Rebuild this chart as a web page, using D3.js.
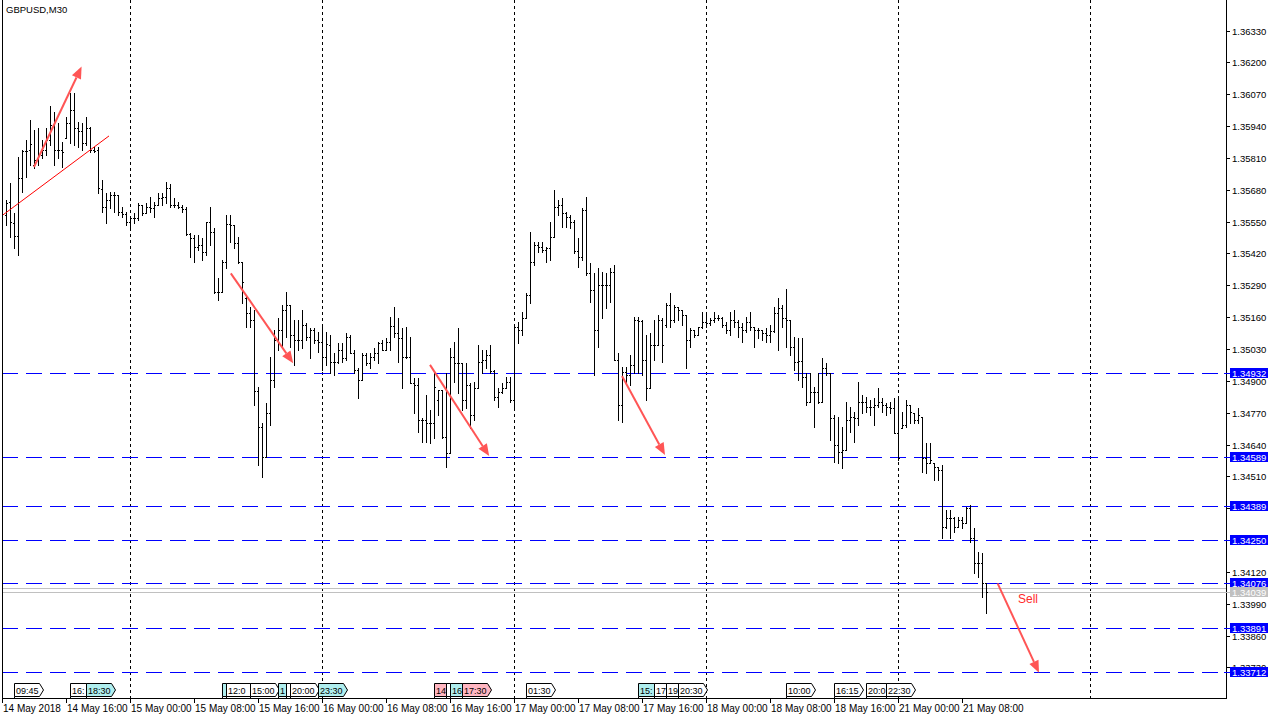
<!DOCTYPE html>
<html><head><meta charset="utf-8">
<script src="https://cdn.jsdelivr.net/npm/d3@7"></script>
<style>
html,body{margin:0;padding:0;background:#fff;}
svg{display:block;}
text{font-family:"Liberation Sans",Arial,sans-serif;}
</style></head><body>
<svg id="c" width="1280" height="720"></svg>
<script>
const title = "GBPUSD,M30";
const firstBar = 1; // bar index of first value (30-minute bars from 14 May 08:00)
const opens = [
1.35577,1.35630,1.35545,1.35491,1.35728,1.35838,1.35843,1.35781,1.35802,1.35822,
1.35843,1.35883,1.35945,1.35843,1.35843,1.35891,1.35953,1.36006,1.35932,1.35920,
1.35871,1.35932,1.35843,1.35843,1.35683,1.35610,1.35638,1.35659,1.35659,1.35589,
1.35581,1.35549,1.35565,1.35565,1.35618,1.35585,1.35610,1.35606,1.35618,1.35647,
1.35651,1.35687,1.35618,1.35618,1.35610,1.35602,1.35500,1.35483,1.35447,1.35455,
1.35426,1.35549,1.35508,1.35263,1.35263,1.35385,1.35540,1.35536,1.35463,1.35385,
1.35238,1.35177,1.35148,1.34859,1.34712,1.34589,1.34769,1.34904,1.35067,1.35108,
1.35189,1.35210,1.35087,1.35067,1.35067,1.35128,1.35079,1.35108,1.35067,1.35059,
1.34997,1.35046,1.34977,1.34977,1.35026,1.34993,1.35079,1.35014,1.34944,1.34904,
1.35006,1.34973,1.34997,1.35014,1.35055,1.35026,1.35059,1.35124,1.35095,1.35075,
1.34997,1.34997,1.34891,1.34883,1.34740,1.34740,1.34728,1.34728,1.34822,1.34863,
1.34671,1.34605,1.34997,1.34973,1.34973,1.34822,1.34883,1.34761,1.34871,1.34977,
1.34985,1.35006,1.34940,1.34834,1.34855,1.34871,1.34895,1.34822,1.35120,1.35108,
1.35157,1.35250,1.35385,1.35455,1.35447,1.35434,1.35442,1.35487,1.35610,1.35618,
1.35585,1.35569,1.35549,1.35430,1.35406,1.35598,1.35340,1.35271,1.35108,1.35291,
1.35291,1.35291,1.35344,1.34985,1.34801,1.34936,1.34924,1.34965,1.35148,1.35144,
1.34985,1.34871,1.35046,1.35046,1.35148,1.35128,1.35210,1.35148,1.35202,1.35189,
1.35169,1.35067,1.35108,1.35087,1.35120,1.35140,1.35136,1.35148,1.35157,1.35157,
1.35128,1.35108,1.35148,1.35140,1.35120,1.35108,1.35140,1.35120,1.35108,1.35108,
1.35095,1.35087,1.35104,1.35177,1.35197,1.35157,1.35148,1.35038,1.34977,1.34981,
1.34916,1.34814,1.34855,1.34855,1.34814,1.34952,1.34932,1.34748,1.34638,1.34610,
1.34618,1.34740,1.34752,1.34748,1.34814,1.34814,1.34793,1.34793,1.34801,1.34814,
1.34801,1.34793,1.34789,1.34687,1.34708,1.34720,1.34801,1.34769,1.34740,1.34752,
1.34585,1.34565,1.34565,1.34548,1.34536,1.34303,1.34340,1.34340,1.34303,1.34332,
1.34320,1.34381,1.34258,1.34156,1.34156,1.34075];
const highs = [
1.35638,1.35708,1.35585,1.35814,1.35843,1.35883,1.35965,1.35924,1.35932,1.35883,
1.35932,1.36022,1.35998,1.35953,1.35875,1.35977,1.36075,1.36075,1.35957,1.35953,
1.35977,1.35936,1.35855,1.35855,1.35720,1.35667,1.35671,1.35671,1.35659,1.35610,
1.35589,1.35569,1.35585,1.35626,1.35618,1.35626,1.35651,1.35630,1.35667,1.35667,
1.35712,1.35704,1.35647,1.35630,1.35618,1.35610,1.35504,1.35495,1.35495,1.35483,
1.35549,1.35610,1.35524,1.35320,1.35393,1.35577,1.35577,1.35536,1.35487,1.35385,
1.35250,1.35202,1.35189,1.34875,1.34728,1.34810,1.34997,1.35108,1.35157,1.35210,
1.35263,1.35210,1.35148,1.35148,1.35189,1.35136,1.35116,1.35116,1.35099,1.35120,
1.35099,1.35087,1.35014,1.35055,1.35055,1.35095,1.35087,1.35026,1.34952,1.35014,
1.35014,1.35014,1.35034,1.35059,1.35067,1.35075,1.35161,1.35202,1.35157,1.35116,
1.35120,1.35079,1.34912,1.34912,1.34748,1.34842,1.34781,1.34932,1.34863,1.34863,
1.34932,1.35034,1.35059,1.35116,1.34973,1.34973,1.34891,1.34895,1.35046,1.35026,
1.35026,1.35046,1.34944,1.34871,1.34891,1.34916,1.34916,1.35120,1.35140,1.35181,
1.35259,1.35508,1.35467,1.35467,1.35467,1.35447,1.35549,1.35679,1.35638,1.35647,
1.35589,1.35577,1.35557,1.35483,1.35606,1.35651,1.35381,1.35340,1.35361,1.35344,
1.35340,1.35361,1.35373,1.35014,1.34957,1.34957,1.35006,1.35161,1.35161,1.35148,
1.35087,1.35095,1.35148,1.35169,1.35157,1.35218,1.35259,1.35210,1.35202,1.35189,
1.35169,1.35116,1.35108,1.35120,1.35181,1.35169,1.35157,1.35181,1.35169,1.35161,
1.35140,1.35181,1.35189,1.35148,1.35136,1.35161,1.35181,1.35120,1.35116,1.35108,
1.35116,1.35128,1.35202,1.35238,1.35210,1.35275,1.35148,1.35079,1.35075,1.35075,
1.34932,1.34932,1.34875,1.34932,1.34993,1.34973,1.34932,1.34761,1.34752,1.34712,
1.34814,1.34793,1.34773,1.34895,1.34842,1.34834,1.34822,1.34830,1.34871,1.34830,
1.34810,1.34814,1.34830,1.34830,1.34773,1.34822,1.34801,1.34769,1.34789,1.34752,
1.34646,1.34646,1.34565,1.34548,1.34556,1.34373,1.34373,1.34344,1.34344,1.34344,
1.34385,1.34393,1.34299,1.34201,1.34197,1.34075];
const lows = [
1.35536,1.35487,1.35442,1.35414,1.35671,1.35732,1.35781,1.35769,1.35781,1.35810,
1.35822,1.35863,1.35781,1.35810,1.35773,1.35891,1.35871,1.35863,1.35855,1.35843,
1.35863,1.35834,1.35834,1.35667,1.35589,1.35545,1.35606,1.35589,1.35577,1.35569,
1.35536,1.35528,1.35545,1.35557,1.35577,1.35585,1.35589,1.35569,1.35618,1.35618,
1.35626,1.35610,1.35610,1.35606,1.35589,1.35495,1.35406,1.35385,1.35434,1.35393,
1.35414,1.35455,1.35259,1.35230,1.35263,1.35361,1.35467,1.35442,1.35381,1.35218,
1.35120,1.35120,1.34801,1.34556,1.34507,1.34589,1.34720,1.34875,1.35026,1.35038,
1.35079,1.35038,1.34965,1.35026,1.35034,1.35067,1.34993,1.35055,1.35018,1.34944,
1.34965,1.34932,1.34924,1.34973,1.34977,1.34985,1.35014,1.34932,1.34830,1.34904,
1.34965,1.34952,1.34985,1.34973,1.35026,1.35026,1.35026,1.35079,1.34977,1.34871,
1.34993,1.34891,1.34769,1.34691,1.34650,1.34650,1.34646,1.34667,1.34761,1.34667,
1.34548,1.34605,1.34895,1.34850,1.34781,1.34789,1.34708,1.34740,1.34871,1.34932,
1.34952,1.34932,1.34822,1.34793,1.34850,1.34871,1.34814,1.34793,1.35055,1.35087,
1.35157,1.35218,1.35373,1.35426,1.35426,1.35385,1.35393,1.35487,1.35577,1.35528,
1.35528,1.35524,1.35422,1.35365,1.35393,1.35332,1.35222,1.34924,1.35038,1.35157,
1.35197,1.35222,1.34985,1.34740,1.34732,1.34891,1.34883,1.34932,1.34932,1.34924,
1.34822,1.34871,1.34985,1.35046,1.34977,1.35120,1.35120,1.35140,1.35148,1.35128,
1.34952,1.35038,1.35079,1.35087,1.35116,1.35120,1.35128,1.35140,1.35148,1.35120,
1.35095,1.35087,1.35120,1.35079,1.35059,1.35099,1.35108,1.35038,1.35075,1.35067,
1.35059,1.35059,1.35099,1.35026,1.35120,1.35038,1.35006,1.34944,1.34904,1.34875,
1.34801,1.34814,1.34712,1.34810,1.34814,1.34924,1.34659,1.34569,1.34565,1.34544,
1.34618,1.34691,1.34650,1.34720,1.34769,1.34773,1.34761,1.34720,1.34793,1.34773,
1.34761,1.34769,1.34687,1.34577,1.34708,1.34712,1.34728,1.34728,1.34728,1.34528,
1.34524,1.34565,1.34495,1.34495,1.34258,1.34299,1.34258,1.34283,1.34303,1.34299,
1.34320,1.34242,1.34115,1.34099,1.34017,1.33952];
const closes = [
1.35626,1.35549,1.35491,1.35728,1.35838,1.35838,1.35867,1.35802,1.35822,1.35843,
1.35883,1.35945,1.35843,1.35843,1.35834,1.35953,1.36006,1.35932,1.35920,1.35871,
1.35932,1.35843,1.35838,1.35687,1.35610,1.35638,1.35659,1.35659,1.35589,1.35581,
1.35549,1.35565,1.35565,1.35618,1.35585,1.35610,1.35606,1.35618,1.35647,1.35651,
1.35687,1.35618,1.35618,1.35610,1.35602,1.35500,1.35483,1.35447,1.35455,1.35426,
1.35549,1.35508,1.35263,1.35263,1.35385,1.35540,1.35536,1.35463,1.35385,1.35304,
1.35177,1.35148,1.34859,1.34712,1.34589,1.34769,1.34904,1.35067,1.35108,1.35189,
1.35210,1.35087,1.35067,1.35067,1.35128,1.35079,1.35108,1.35067,1.35059,1.34997,
1.35050,1.34977,1.34977,1.35026,1.34993,1.35079,1.35014,1.34944,1.34904,1.35006,
1.34973,1.34997,1.35014,1.35055,1.35026,1.35059,1.35124,1.35095,1.35075,1.34997,
1.34997,1.34891,1.34883,1.34740,1.34740,1.34728,1.34728,1.34875,1.34863,1.34671,
1.34605,1.34997,1.34973,1.34973,1.34822,1.34883,1.34761,1.34871,1.34977,1.34985,
1.35006,1.34940,1.34834,1.34855,1.34871,1.34895,1.34822,1.35120,1.35108,1.35157,
1.35250,1.35385,1.35455,1.35447,1.35434,1.35442,1.35487,1.35610,1.35618,1.35585,
1.35569,1.35549,1.35430,1.35406,1.35598,1.35340,1.35271,1.35108,1.35291,1.35291,
1.35291,1.35344,1.34985,1.34801,1.34936,1.34924,1.34965,1.35148,1.35144,1.34985,
1.34871,1.35046,1.35046,1.35148,1.35046,1.35210,1.35148,1.35202,1.35189,1.35169,
1.35067,1.35108,1.35087,1.35120,1.35140,1.35136,1.35148,1.35157,1.35157,1.35128,
1.35108,1.35148,1.35140,1.35120,1.35108,1.35140,1.35120,1.35108,1.35108,1.35095,
1.35087,1.35104,1.35177,1.35197,1.35157,1.35148,1.35038,1.34977,1.34981,1.34916,
1.34814,1.34855,1.34855,1.34814,1.34952,1.34932,1.34748,1.34638,1.34610,1.34618,
1.34740,1.34752,1.34748,1.34814,1.34814,1.34793,1.34793,1.34801,1.34814,1.34801,
1.34793,1.34789,1.34687,1.34585,1.34720,1.34801,1.34773,1.34740,1.34761,1.34585,
1.34565,1.34577,1.34548,1.34536,1.34303,1.34340,1.34340,1.34303,1.34332,1.34320,
1.34381,1.34258,1.34156,1.34156,1.34075,1.34039];

// price scale tick labels
const priceTicks = [1.36330,1.36200,1.36070,1.35940,1.35810,1.35680,1.35550,1.35420,1.35290,1.35160,
  1.35030,1.34900,1.34770,1.34640,1.34510,1.34380,1.34250,1.34120,1.33990,1.33860,1.33730];
// time axis labels (bar index, text)
const timeTickIdx = [0,16,32,48,64,80,96,112,128,144,160,176,192,208,224,240];
const timeTickLabels = ["14 May 2018","14 May 16:00","15 May 00:00","15 May 08:00","15 May 16:00",
  "16 May 00:00","16 May 08:00","16 May 16:00","17 May 00:00","17 May 08:00","17 May 16:00",
  "18 May 00:00","18 May 08:00","18 May 16:00","21 May 00:00","21 May 08:00"];
const daySepIdx = [32,80,128,176,224,272];
// horizontal levels
const levelPrices = [1.34932,1.34589,1.34389,1.34250,1.34076,1.33891,1.33712];
const bidPrice = 1.34039;
const askPrice = 1.34056;
// event markers on the time axis
const markerIdx = [3,17,21,55,56,62,69,71,72,79,108,111,112,115,131,159,163,166,169,196,208,216,221];
const markerText = ["09:45","16:30","18:30","11:30","12:00","15:00","18:30","19:30","20:00","23:30",
  "14:00","15:30","16:00","17:30","01:30","15:30","17:30","19:00","20:30","10:00","16:15","20:00","22:30"];
const markerKind = ["w","w","c","c","w","w","c","w","w","c","p","w","c","p","w","c","w","w","w","w","w","w","w"];
// annotations (bar index, price)
const arrowFrom = [[8,1.35773],[57.2,1.35339],[107,1.34965],[155,1.34920],[248.9,1.34073]];
const arrowTo   = [[19.9,1.36183],[72.8,1.34972],[121.8,1.34593],[165.75,1.34597],[259.25,1.33708]];
const trendLine = [[0.2,1.35577],[26.75,1.35900]];
const sellLabel = {idx:254, price:1.33993, text:"Sell"};

const svg = d3.select("#c");
const W = 1280, H = 720;
const plotL = 2, plotR = 1226, plotT = 0, plotB = 698;
const x = d3.scaleLinear().domain([0,306]).range([plotL, plotR]);
const y = d3.scaleLinear().domain([1.33605,1.36455]).range([plotB, plotT]);
const px = v => Math.round(x(v));
const py = v => Math.round(y(v));

svg.append("rect").attr("width",W).attr("height",H).attr("fill","#fff");

const defs = svg.append("defs");
defs.append("clipPath").attr("id","plot").append("rect")
  .attr("x",plotL).attr("y",plotT).attr("width",plotR-plotL).attr("height",plotB-plotT);

const g = svg.append("g").attr("clip-path","url(#plot)");

// day separators
g.selectAll("line.sep").data(daySepIdx).join("line")
  .attr("x1",d=>px(d)+0.5).attr("x2",d=>px(d)+0.5).attr("y1",plotT).attr("y2",plotB)
  .attr("stroke","#000").attr("stroke-width",1).attr("stroke-dasharray","3,3")
  .attr("shape-rendering","crispEdges");

// levels
g.selectAll("line.lvl").data(levelPrices).join("line")
  .attr("x1",plotL).attr("x2",plotR).attr("y1",d=>py(d)+0.5).attr("y2",d=>py(d)+0.5)
  .attr("stroke","#0000ff").attr("stroke-width",1).attr("stroke-dasharray","16,8")
  .attr("shape-rendering","crispEdges");
// bid / ask
g.selectAll("line.ba").data([askPrice,bidPrice]).join("line")
  .attr("x1",plotL).attr("x2",plotR).attr("y1",d=>py(d)+0.5).attr("y2",d=>py(d)+0.5)
  .attr("stroke","#c0c0c0").attr("stroke-width",1).attr("shape-rendering","crispEdges");

// bars
const bars = opens.map((o,i)=>({k:i+firstBar,o,h:highs[i],l:lows[i],c:closes[i]}));
const bg = g.append("g").attr("fill","#000").attr("shape-rendering","crispEdges");
bars.forEach(b=>{
  const bx = px(b.k), yh = py(b.h), yl = py(b.l);
  bg.append("rect").attr("x",bx).attr("y",yh).attr("width",1).attr("height",Math.max(1,yl-yh+1));
  bg.append("rect").attr("x",bx-1).attr("y",py(b.o)).attr("width",1).attr("height",1);
  bg.append("rect").attr("x",bx+1).attr("y",py(b.c)).attr("width",1).attr("height",1);
});

// trend line
g.append("line")
  .attr("x1",x(trendLine[0][0])).attr("y1",y(trendLine[0][1]))
  .attr("x2",x(trendLine[1][0])).attr("y2",y(trendLine[1][1]))
  .attr("stroke","#ff0000").attr("stroke-width",1);

// arrows
const arrowColor = "#ff5555";
arrowFrom.forEach((f,i)=>{
  const t = arrowTo[i];
  const x1 = x(f[0]), y1 = y(f[1]), x2 = x(t[0]), y2 = y(t[1]);
  const ang = Math.atan2(y2-y1, x2-x1);
  const hl = 12, hw = 5;
  const bx = x2 - hl*Math.cos(ang), by = y2 - hl*Math.sin(ang);
  g.append("line").attr("x1",x1).attr("y1",y1).attr("x2",bx).attr("y2",by)
    .attr("stroke",arrowColor).attr("stroke-width",2);
  const pts = [[x2,y2],[bx + hw*Math.sin(ang), by - hw*Math.cos(ang)],[bx - hw*Math.sin(ang), by + hw*Math.cos(ang)]];
  g.append("polygon").attr("points",pts.map(p=>p.join(",")).join(" ")).attr("fill",arrowColor);
});

// sell label
g.append("text").attr("x",x(sellLabel.idx)).attr("y",y(sellLabel.price))
  .attr("font-size",12).attr("fill","#ff2a2a").text(sellLabel.text);

// frame
const fr = svg.append("g").attr("stroke","#000").attr("stroke-width",1).attr("shape-rendering","crispEdges");
fr.append("line").attr("x1",plotL+0.5).attr("x2",plotL+0.5).attr("y1",0).attr("y2",plotB+1);
fr.append("line").attr("x1",plotR+0.5).attr("x2",plotR+0.5).attr("y1",0).attr("y2",plotB+1);
fr.append("line").attr("x1",plotL).attr("x2",plotR+1).attr("y1",plotB+0.5).attr("y2",plotB+0.5);

// title
svg.append("text").attr("x",6).attr("y",13).attr("font-size",9.5).attr("fill","#000").text(title);

// price axis
const pa = svg.append("g");
const tagPrices = levelPrices.concat([bidPrice]);
priceTicks.forEach(p=>{
  const yy = py(p);
  pa.append("line").attr("x1",plotR).attr("x2",plotR+4).attr("y1",yy+0.5).attr("y2",yy+0.5)
    .attr("stroke","#000").attr("shape-rendering","crispEdges");
  // labels completely covered by a price tag are not visible in the reference
  const covered = tagPrices.some(t=>Math.abs(py(t)-yy) < 3);
  if (!covered) {
    pa.append("text").attr("x",plotR+6).attr("y",yy+3.5).attr("font-size",9.5).attr("fill","#000")
      .text(p.toFixed(5));
  }
});
function priceTag(p, bgc){
  const yy = py(p);
  pa.append("rect").attr("x",plotR+4).attr("y",yy-5).attr("width",38).attr("height",10)
    .attr("fill",bgc).attr("shape-rendering","crispEdges");
  pa.append("line").attr("x1",plotR-2).attr("x2",plotR+4).attr("y1",yy+0.5).attr("y2",yy+0.5)
    .attr("stroke",bgc).attr("shape-rendering","crispEdges");
  pa.append("text").attr("x",plotR+6).attr("y",yy+3.5).attr("font-size",9.5).attr("fill","#fff")
    .text(p.toFixed(5));
}
levelPrices.forEach(p=>priceTag(p,"#0000ff"));
priceTag(bidPrice,"#c0c0c0");

// time axis
const ta = svg.append("g");
timeTickIdx.forEach((k,i)=>{
  const xx = px(k);
  ta.append("line").attr("x1",xx+0.5).attr("x2",xx+0.5).attr("y1",plotB).attr("y2",plotB+5)
    .attr("stroke","#000").attr("shape-rendering","crispEdges");
  ta.append("text").attr("x",xx+1).attr("y",712).attr("font-size",10).attr("fill","#000")
    .text(timeTickLabels[i]);
});

// event markers (a later marker covers the right part of an earlier one)
const kindFill = {w:"#ffffff", c:"#afeeee", p:"#ffb6c1"};
const mk = svg.append("g");
markerIdx.forEach((k,i)=>{
  const xx = px(k) + 0.5, top = 683.5, bot = 696.5;
  const nextX = i+1 < markerIdx.length ? px(markerIdx[i+1]) + 0.5 : Infinity;
  const avail = Math.min(29, nextX - xx) - 1.5;
  mk.append("line").attr("x1",xx).attr("x2",xx).attr("y1",bot).attr("y2",plotB)
    .attr("stroke","#000");
  mk.append("path")
    .attr("d",`M${xx},${top}L${xx+25},${top}L${xx+29},${(top+bot)/2}L${xx+25},${bot}L${xx},${bot}Z`)
    .attr("fill",kindFill[markerKind[i]]).attr("stroke","#000").attr("stroke-width",1);
  const t = mk.append("text").attr("x",xx+1.5).attr("y",694).attr("font-size",9).attr("fill","#000")
    .text(markerText[i]);
  let s = markerText[i];
  while (s.length && t.node().getComputedTextLength() > avail) {
    s = s.slice(0,-1);
    t.text(s);
  }
  if (!s.length) t.remove();
});
</script>
</body></html>
